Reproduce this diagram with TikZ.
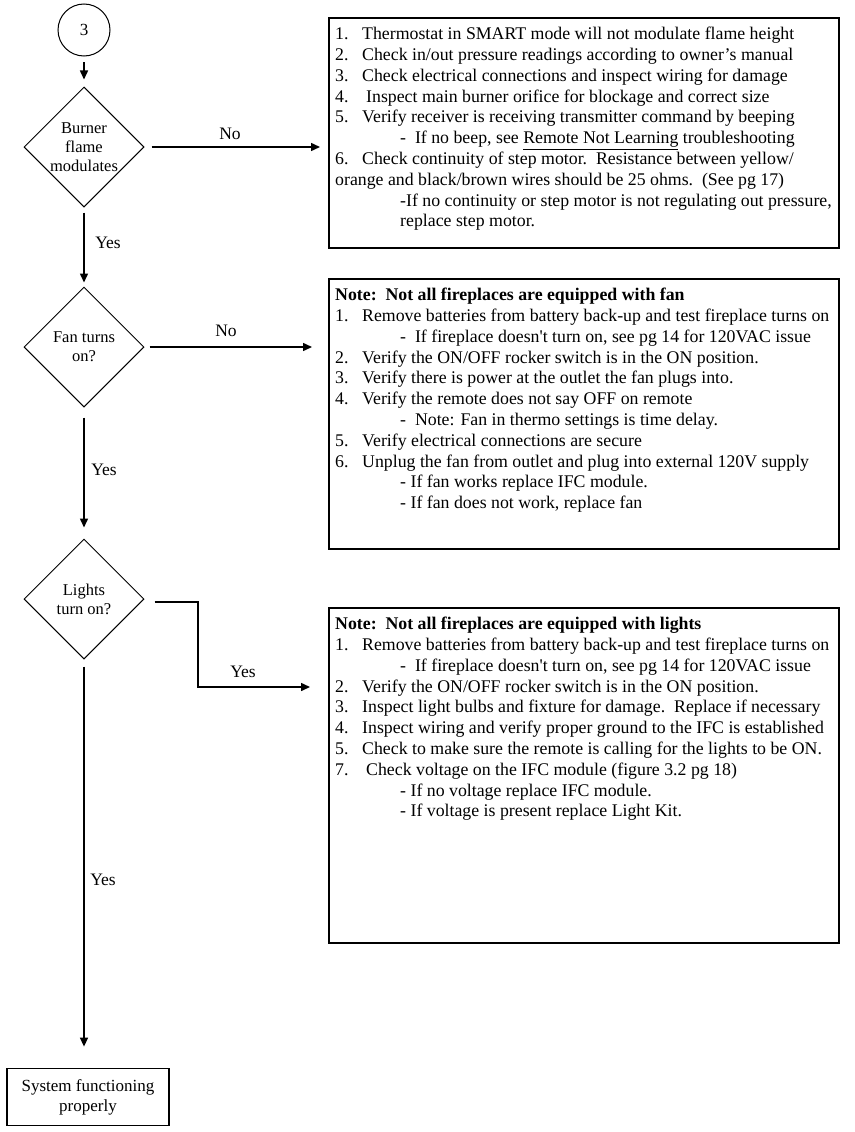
\documentclass[tikz,border=0pt]{standalone}
\usepackage{fontspec}
\setmainfont{Liberation Serif}
\usetikzlibrary{shapes.geometric,arrows.meta}

% numbered lines and indented sub lines in the boxes
\newcommand{\stepno}[1]{\makebox[27pt][l]{#1}}
\newcommand{\subline}{\hspace*{65pt}}

\begin{document}
\begin{tikzpicture}[x=1pt, y=-1pt, black,
	decision/.style={diamond, draw, line width=1pt, aspect=1, minimum size=120pt, inner sep=0pt, align=center, font=\fontsize{16.5}{19}\selectfont},
	connector/.style={circle, draw, line width=1pt, minimum size=52pt, font=\fontsize{17}{20}\selectfont},
	infobox/.style={draw, line width=1.8pt, anchor=north west, inner sep=0pt},
	boxtext/.style={anchor=north west, align=left, inner xsep=7pt, inner ysep=0pt, yshift=-10pt, font=\fontsize{17.8}{20.8}\selectfont},
	endbox/.style={draw, line width=1.8pt, minimum width=162pt, minimum height=57pt, align=center, font=\fontsize{17}{20}\selectfont},
	flow/.style={-{Triangle[length=9pt,width=8pt]}, line width=1.5pt},
	lbl/.style={font=\fontsize{17.5}{20}\selectfont}]
	
	\useasboundingbox (0,0) rectangle (854,1132);
	
	% draw the decisions on the left
	\node[connector] (start) at (84,30) {3};
	\node[decision] (burner) at (84,147) {Burner\\flame\\modulates};
	\node[decision] (fan) at (84,347) {Fan turns\\on?};
	\node[decision] (lights) at (84,599) {Lights\\turn on?};
	\node[endbox] (done) at (88,1097) {System functioning\\properly};
	
	% draw the boxes on the right
	\node[infobox, minimum width=510pt, minimum height=230pt] (smartbox) at (328,17) {};
	\node[boxtext] at (smartbox.north west) {%
		\stepno{1.}Thermostat in SMART mode will not modulate flame height\\
		\stepno{2.}Check in/out pressure readings according to owner’s manual\\
		\stepno{3.}Check electrical connections and inspect wiring for damage\\
		\stepno{4.}\hspace*{4pt}Inspect main burner orifice for blockage and correct size\\
		\stepno{5.}Verify receiver is receiving transmitter command by beeping\\
		\subline-\ \ If no beep, see \underline{Remote Not Learning} troubleshooting\\
		\stepno{6.}Check continuity of step motor.\ \ Resistance between yellow/\\
		orange and black/brown wires should be 25 ohms.\ \ (See pg 17)\\
		\subline-If no continuity or step motor is not regulating out pressure,\\
		\subline replace step motor.};
	
	\node[infobox, minimum width=510pt, minimum height=270pt] (fanbox) at (328,278) {};
	\node[boxtext] at (fanbox.north west) {%
		\textbf{Note:\ \ Not all fireplaces are equipped with fan}\\
		\stepno{1.}Remove batteries from battery back-up and test fireplace turns on\\
		\subline-\ \ If fireplace doesn\textquotesingle t turn on, see pg 14 for 120VAC issue\\
		\stepno{2.}Verify the ON/OFF rocker switch is in the ON position.\\
		\stepno{3.}Verify there is power at the outlet the fan plugs into.\\
		\stepno{4.}Verify the remote does not say OFF on remote\\
		\subline-\ \ Note: Fan in thermo settings is time delay.\\
		\stepno{5.}Verify electrical connections are secure\\
		\stepno{6.}Unplug the fan from outlet and plug into external 120V supply\\
		\subline- If fan works replace IFC module.\\
		\subline- If fan does not work, replace fan};
	
	\node[infobox, minimum width=510pt, minimum height=335pt] (lightsbox) at (328,607) {};
	\node[boxtext] at (lightsbox.north west) {%
		\textbf{Note:\ \ Not all fireplaces are equipped with lights}\\
		\stepno{1.}Remove batteries from battery back-up and test fireplace turns on\\
		\subline-\ \ If fireplace doesn\textquotesingle t turn on, see pg 14 for 120VAC issue\\
		\stepno{2.}Verify the ON/OFF rocker switch is in the ON position.\\
		\stepno{3.}Inspect light bulbs and fixture for damage.\ \ Replace if necessary\\
		\stepno{4.}Inspect wiring and verify proper ground to the IFC is established\\
		\stepno{5.}Check to make sure the remote is calling for the lights to be ON.\\
		\stepno{7.}\hspace*{4pt}Check voltage on the IFC module (figure 3.2 pg 18)\\
		\subline- If no voltage replace IFC module.\\
		\subline- If voltage is present replace Light Kit.};
	
	% draw the arrows
	\draw[flow, shorten <=6pt, shorten >=7pt] (start) -- (burner);
	\draw[flow, shorten <=7pt, shorten >=8pt] (burner.east) -- (burner.east -| smartbox.west);
	\draw[flow, shorten <=5pt, shorten >=4pt] (burner) -- (fan);
	\draw[flow, shorten <=5pt, shorten >=16pt] (fan.east) -- (fan.east -| fanbox.west);
	\draw[flow, shorten <=10pt, shorten >=11pt] (fan) -- (lights);
	\coordinate (lightsbend) at (198,687);
	\draw[flow, shorten >=18pt] ([xshift=10pt,yshift=-3pt]lights.east) -| (lightsbend) -- (lightsbend -| lightsbox.west);
	\draw[flow, shorten <=7pt, shorten >=21pt] (lights.south) -- (lights.south |- done.north);
	
	% draw the labels of the arrows
	\node[lbl] (burnerno) at (230,134) {No};
	\node[lbl] (burneryes) at (108,243) {Yes};
	\node[lbl] (fanno) at (226,331) {No};
	\node[lbl] (fanyes) at (104,470) {Yes};
	\node[lbl] (lightsyes) at (243,672) {Yes};
	\node[lbl] (lightsno) at (103,880) {Yes};
\end{tikzpicture}
\end{document}
